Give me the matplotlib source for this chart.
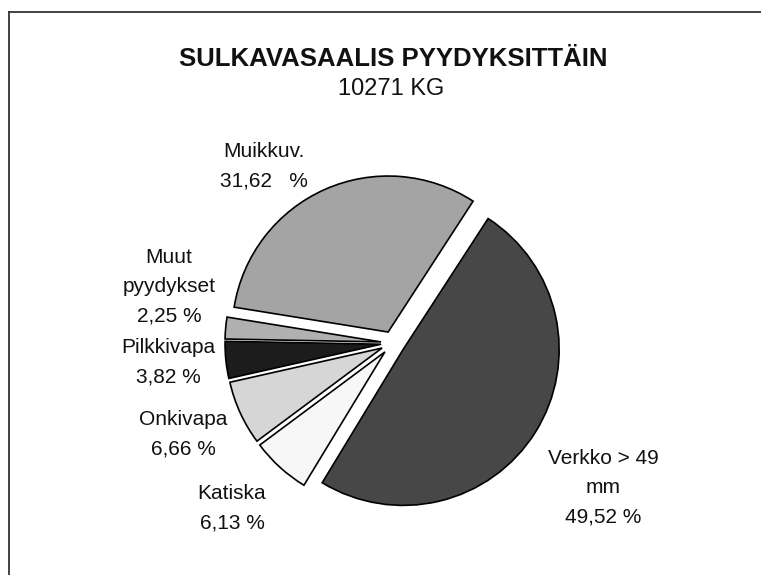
import matplotlib.pyplot as plt
from matplotlib.lines import Line2D

plt.rcParams['font.family'] = ['Liberation Sans', 'DejaVu Sans']

# data, clockwise from the big slice
categories = ['Verkko > 49\nmm', 'Katiska', 'Onkivapa', 'Pilkkivapa', 'Muut\npyydykset', 'Muikkuv.']
shares = [49.52, 6.13, 6.66, 3.82, 2.25, 31.62]
pct_text = ['49,52 %', '6,13 %', '6,66 %', '3,82 %', '2,25 %', '31,62   %']
title = 'SULKAVASAALIS PYYDYKSITTÄIN'
subtitle = '10271 KG'

colors = ['#474747', '#f7f7f7', '#d6d6d6', '#1c1c1c', '#b0b0b0', '#a4a4a4']

W, H = 761, 575
fig = plt.figure(figsize=(W / 100, H / 100), dpi=100)
ax = fig.add_axes([0, 0, 1, 1])

# every slice pulled out a little (offset in pixels, the axes is in pixel units)
ax.pie(shares, colors=colors, explode=[12] * len(shares), startangle=57,
       counterclock=False, center=(393, H - 343), radius=156,
       wedgeprops=dict(edgecolor='black', linewidth=1.2))
ax.set_xlim(0, W)
ax.set_ylim(0, H)
ax.set_aspect('equal')
ax.axis('off')

# label positions in image pixels (x centre, y centre of first line)
label_pos = [(603, 457), (232, 492), (183, 418), (168, 346), (169, 256), (264, 150)]
for name, pct, (x, y) in zip(categories, pct_text, label_pos):
    ax.text(x, H - y + 8, name + '\n' + pct, ha='center', va='top',
            fontsize=15, linespacing=1.68, color='#111111')

ax.text(393, H - 66, title, ha='center', va='baseline', fontsize=18.5,
        fontweight='bold', color='#111111')
ax.text(391, H - 95, subtitle, ha='center', va='baseline', fontsize=17,
        color='#111111')

# frame of the scanned page
fig.add_artist(Line2D([9 / W, 9 / W], [0, 1 - 12 / H], color='#333333', lw=1.3))
fig.add_artist(Line2D([9 / W, 1], [1 - 12 / H, 1 - 12 / H], color='#333333', lw=1.3))

fig.savefig('out.png', dpi=100)
